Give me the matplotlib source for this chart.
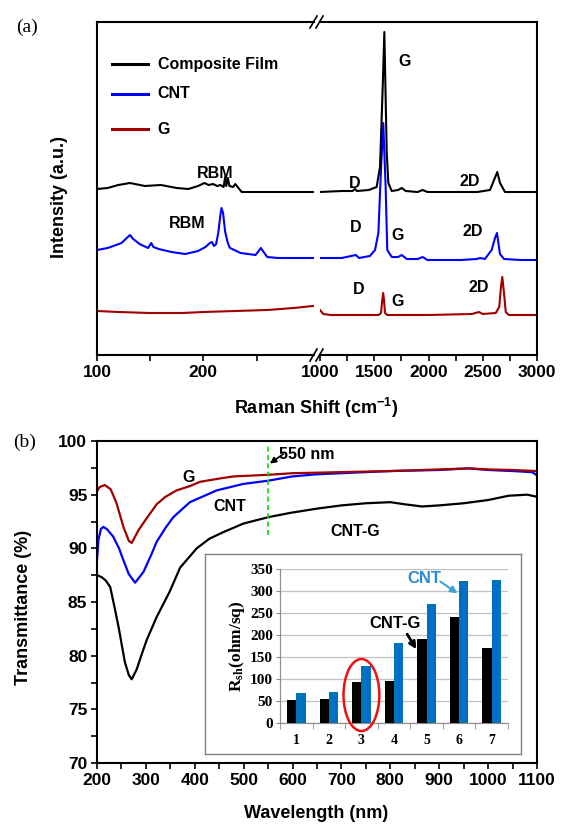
import matplotlib.pyplot as plt
from matplotlib.patches import Ellipse
from matplotlib.lines import Line2D

# bold Arial-like text everywhere, serif only for the panel letters and the inset
plt.rcParams['font.family'] = ['Liberation Sans', 'DejaVu Sans']
plt.rcParams['font.weight'] = 'bold'
plt.rcParams['mathtext.fontset'] = 'custom'
plt.rcParams['mathtext.rm'] = 'Liberation Sans:bold'
plt.rcParams['mathtext.sf'] = 'Liberation Serif:bold'
plt.rcParams['mathtext.default'] = 'rm'

# --- (a) Raman spectra, low range (cm-1) ---
comp_low_x = [100, 110, 120, 131, 145, 160, 175, 186, 195, 201, 205, 209, 213, 216, 219,
              220.5, 221.5, 223, 224.5, 228, 230, 233, 236, 250, 270, 290, 303]
comp_low_y = [166, 167, 170, 172, 169, 170, 167, 166, 169, 172, 170, 171, 169, 170, 168,
              178, 169, 177, 169, 168, 171, 167, 163, 163, 163, 163, 163]
cnt_low_x = [100, 110, 118, 123, 128, 131, 134, 140, 148, 151, 153, 158, 170, 183, 195, 202,
             206, 208, 210, 212, 214, 216, 217, 218.5, 220.5, 223, 225, 235, 249, 252, 254,
             256, 260, 270, 290, 303]
cnt_low_y = [105, 107, 110, 112, 117, 120, 116, 111, 107, 112, 108, 106, 103, 101, 104, 108,
             112, 113, 109, 111, 122, 140, 147, 142, 123, 112, 107, 102, 100, 104, 107,
             104, 98, 97, 97, 97]
g_low_x = [100, 120, 150, 180, 200, 230, 260, 285, 303]
g_low_y = [44, 43, 42, 42, 43, 44, 45, 47, 49]

# --- (a) Raman spectra, high range (cm-1) ---
comp_high_x = [1000, 1200, 1300, 1323, 1340, 1450, 1522, 1553, 1578, 1593, 1615, 1630, 1661,
               1720, 1753, 1790, 1900, 1946, 1990, 2200, 2450, 2567, 2604, 2634, 2659, 2705,
               2850, 3000]
comp_high_y = [163, 164, 164, 166, 164, 165, 168, 188, 268, 323, 202, 172, 164,
               165, 167, 164, 163, 165, 163, 163, 163, 165, 175, 183, 172, 163,
               163, 163]
cnt_high_x = [1000, 1200, 1330, 1360, 1460, 1507, 1538, 1562, 1583, 1605, 1620, 1661, 1720,
              1753, 1800, 1900, 1946, 1990, 2300, 2444, 2475, 2520, 2582, 2613, 2631, 2659,
              2696, 2850, 3000]
cnt_high_y = [97, 97, 100, 97, 99, 105, 122, 185, 232, 168, 105, 98, 98,
              100, 96, 96, 98, 95, 95, 96, 97, 96, 105, 117, 122, 101,
              96, 95, 95]
g_high_x = [1000, 1030, 1100, 1300, 1540, 1562, 1574, 1582, 1590, 1599, 1620, 2000, 2400,
            2465, 2500, 2620, 2652, 2668, 2680, 2696, 2712, 2740, 3000]
g_high_y = [45, 41, 40, 40, 40, 42, 55, 62, 55, 42, 40, 40, 41,
            43, 41, 42, 48, 68, 78, 62, 43, 40, 40]

# --- (b) transmittance (%) vs wavelength (nm) ---
g_wl = [200, 205, 216, 228, 240, 254, 265, 271, 285, 300, 322, 340, 363, 390, 411, 450, 479,
        550, 600, 700, 800, 900, 960, 1000, 1050, 1100]
g_tr = [95.3, 95.7, 95.9, 95.5, 94.2, 92.0, 90.7, 90.5, 91.7, 92.7, 94.1, 94.8, 95.4, 95.8,
        96.2, 96.5, 96.7, 96.85, 97.0, 97.1, 97.2, 97.35, 97.45, 97.35, 97.3, 97.2]
cnt_wl = [200, 203, 208, 213, 220, 233, 245, 254, 265, 278, 295, 310, 322, 340, 356, 390, 420,
          445, 499, 550, 587, 600, 650, 700, 800, 900, 960, 1000, 1050, 1090, 1100]
cnt_tr = [88.9, 90.8, 91.8, 92.0, 91.8, 91.1, 90.0, 88.9, 87.6, 86.8, 87.8, 89.3, 90.6, 91.9,
          92.9, 94.3, 94.9, 95.4, 96.0, 96.3, 96.6, 96.7, 96.9, 97.0, 97.2, 97.3, 97.45, 97.3,
          97.2, 97.1, 96.8]
cntg_wl = [200, 210, 218, 227, 235, 244, 257, 265, 271, 281, 292, 302, 322, 349, 370, 404, 430,
           458, 499, 550, 595, 650, 700, 750, 800, 830, 865, 900, 950, 1000, 1042, 1080, 1100]
cntg_tr = [87.5, 87.3, 87.0, 86.4, 84.7, 82.7, 79.4, 78.2, 77.8, 78.7, 80.2, 81.5, 83.6, 86.0,
           88.2, 90.0, 90.9, 91.5, 92.3, 92.9, 93.3, 93.7, 94.0, 94.2, 94.3, 94.1, 93.9, 94.0,
           94.2, 94.5, 94.9, 95.0, 94.8]

# --- (b) inset: sheet resistance ---
samples = ['1', '2', '3', '4', '5', '6', '7']
rsh_cntg = [52, 53, 93, 96, 190, 240, 170]
rsh_cnt = [67, 71, 130, 182, 270, 323, 326]

BLACK, BLUE, RED = '#000000', '#0000ff', '#a00000'
BAR_BLUE = '#0070c0'

W, H = 561, 826
fig = plt.figure(figsize=(W / 100, H / 100), dpi=100)


def box(x0, y0, x1, y1):
    # pixel box (origin top-left) -> figure rect
    return [x0 / W, 1 - y1 / H, (x1 - x0) / W, (y1 - y0) / H]


def fig_line(xs, ys, **kw):
    fig.add_artist(Line2D([x / W for x in xs], [1 - y / H for y in ys],
                          transform=fig.transFigure, **kw))


# ================= panel (a) =================
axL = fig.add_axes(box(97, 22, 314, 355))
axR = fig.add_axes(box(320, 22, 537, 355))
for ax in (axL, axR):
    ax.set_ylim(0, 333)
    ax.set_yticks([])
    for s in ax.spines.values():
        s.set_linewidth(1.5)
    ax.tick_params(axis='x', which='both', direction='out', length=4, width=1.2,
                   labelsize=12.5, pad=3)
axL.spines['right'].set_visible(False)
axR.spines['left'].set_visible(False)

axL.set_xlim(100, 304)
axL.set_xticks([100, 200])
axL.set_xticks([150, 250], minor=True)
axR.set_xlim(1000, 3000)
axR.set_xticks([1000, 1500, 2000, 2500, 3000])
axR.set_xticks([1250, 1750, 2250, 2750], minor=True)

axL.plot(comp_low_x, comp_low_y, color=BLACK, lw=1.5)
axL.plot(cnt_low_x, cnt_low_y, color=BLUE, lw=1.5)
axL.plot(g_low_x, g_low_y, color=RED, lw=1.5)
axR.plot(g_high_x, g_high_y, color=RED, lw=1.5)
axR.plot(cnt_high_x, cnt_high_y, color=BLUE, lw=1.5)
axR.plot(comp_high_x, comp_high_y, color=BLACK, lw=1.5)

# legend drawn by hand like the original
for yv, name, c in [(291, 'Composite Film', BLACK), (261, 'CNT', BLUE), (226, 'G', RED)]:
    axL.plot([114, 148], [yv, yv], color=c, lw=2.2)
    axL.text(157, yv, name, fontsize=11.5, va='center', ha='left')

# peak labels
axL.text(211, 181, 'RBM', fontsize=11.5, ha='center', va='center')
axL.text(185, 132, 'RBM', fontsize=11.5, ha='center', va='center')
for x, y, s in [(1783, 293, 'G'), (1323, 172, 'D'), (2383, 174, '2D'),
                (1332, 128, 'D'), (1719, 120, 'G'), (2410, 123, '2D'),
                (1360, 65, 'D'), (1719, 53, 'G'), (2466, 67, '2D')]:
    axR.text(x, y, s, fontsize=11.5, ha='center', va='center')

# break marks
for cx in (313.5, 319.5):
    for cy in (22, 355):
        fig_line([cx - 3.5, cx + 3.5], [cy + 6, cy - 6], color='k', lw=1.2)

fig.text(60 / W, 1 - 197 / H, 'Intensity (a.u.)', rotation=90, fontsize=13,
         ha='center', va='center')
fig.text(316 / W, 1 - 408 / H, 'Raman Shift (cm$^{-1}$)', fontsize=13,
         ha='center', va='center')
fig.text(27 / W, 1 - 27 / H, '(a)', fontsize=14, family='Liberation Serif',
         weight='normal', ha='center', va='center')

# ================= panel (b) =================
axb = fig.add_axes(box(97, 441, 537, 763))
axb.set_xlim(200, 1100)
axb.set_ylim(70, 100)
axb.set_xticks(range(200, 1101, 100))
axb.set_xticks(range(250, 1100, 100), minor=True)
axb.set_yticks(range(70, 101, 5))
axb.set_yticks([72.5, 77.5, 82.5, 87.5, 92.5, 97.5], minor=True)
axb.tick_params(which='both', direction='out', length=4, width=1.2, labelsize=12.5, pad=3)
for s in axb.spines.values():
    s.set_linewidth(1.5)

axb.plot(cntg_wl, cntg_tr, color=BLACK, lw=1.6)
axb.plot(cnt_wl, cnt_tr, color=BLUE, lw=1.6)
axb.plot(g_wl, g_tr, color=RED, lw=1.6)
axb.plot([550, 550], [91.2, 99.6], color='#00e000', lw=1.2, ls=(0, (3, 2)))

axb.text(572, 98.75, '550 nm', fontsize=11.5, ha='left', va='center')
axb.annotate('', xy=(549, 97.75), xytext=(586, 98.95),
             arrowprops=dict(arrowstyle='-|>', color='k', lw=1.2, mutation_scale=9))
axb.text(388, 96.6, 'G', fontsize=11.5, ha='center', va='center')
axb.text(471, 93.9, 'CNT', fontsize=11.5, ha='center', va='center')
axb.text(728, 91.6, 'CNT-G', fontsize=11.5, ha='center', va='center')

fig.text(24 / W, 1 - 607 / H, 'Transmittance (%)', rotation=90, fontsize=13,
         ha='center', va='center')
fig.text(316 / W, 1 - 813 / H, 'Wavelength (nm)', fontsize=13, ha='center', va='center')
fig.text(25 / W, 1 - 442 / H, '(b)', fontsize=14, family='Liberation Serif',
         weight='normal', ha='center', va='center')

# ---- inset frame ----
frame = fig.add_axes(box(205, 554, 521, 754))
frame.set_xticks([])
frame.set_yticks([])
for s in frame.spines.values():
    s.set_color('#808080')
    s.set_linewidth(1.0)

ins = fig.add_axes(box(280, 569, 508, 722.7))
ins.set_facecolor('none')
pos = list(range(len(samples)))
bw = 0.285
ins.bar([p - bw / 2 for p in pos], rsh_cntg, width=bw, color=BLACK, zorder=3)
ins.bar([p + bw / 2 for p in pos], rsh_cnt, width=bw, color=BAR_BLUE, zorder=3)
ins.set_xlim(-0.5, 6.5)
ins.set_ylim(0, 350)
ins.set_yticks(range(0, 351, 50))
ins.set_xticks(pos)
ins.set_xticklabels(samples)
ins.set_xticks([p + 0.5 for p in range(-1, 7)], minor=True)
ins.grid(axis='y', color='#c0c0c0', lw=0.9, zorder=0)
for side in ('top', 'right'):
    ins.spines[side].set_visible(False)
for side in ('left', 'bottom'):
    ins.spines[side].set_color('#909090')
    ins.spines[side].set_linewidth(0.9)
ins.tick_params(axis='x', which='major', length=0, pad=8)
ins.tick_params(axis='x', which='minor', length=4, color='#909090', direction='out')
ins.tick_params(axis='y', length=3, color='#909090', pad=2)
for lab in ins.get_yticklabels():
    lab.set_family('Liberation Serif')
    lab.set_fontsize(11)
    lab.set_weight('bold')
for lab in ins.get_xticklabels():
    lab.set_family('Liberation Serif')
    lab.set_fontsize(10)
    lab.set_weight('bold')
ins.set_ylabel('R$_{\\mathsf{sh}}$(ohm/sq)', family='Liberation Serif', fontsize=12.5,
               weight='bold', labelpad=2)

ins.add_patch(Ellipse((2.0, 63), 1.1, 164, fill=False, edgecolor='#ee1111', lw=1.8,
                      zorder=4, clip_on=False))
ins.text(3.92, 329, 'CNT', color='#2a8ad4', fontsize=12, ha='center', va='center')
ins.annotate('', xy=(5.02, 291), xytext=(4.35, 325),
             arrowprops=dict(arrowstyle='-|>', color='#41a0dc', lw=1.5, mutation_scale=10))
ins.text(3.03, 227, 'CNT-G', fontsize=12, ha='center', va='center')
ins.annotate('', xy=(3.73, 162), xytext=(3.36, 207),
             arrowprops=dict(arrowstyle='-|>', color='k', lw=2, mutation_scale=10))

plt.savefig('out.png', dpi=100)
